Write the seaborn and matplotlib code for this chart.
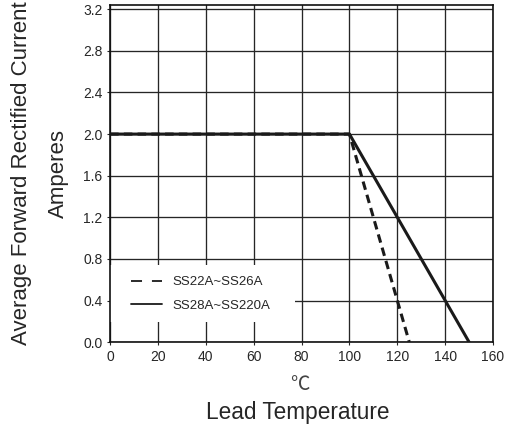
import pandas as pd
import matplotlib
matplotlib.use('Agg')
import matplotlib.pyplot as plt
from matplotlib.patches import Rectangle
import seaborn as sns

# derating curves
temp_a = [0, 100, 125]
current_a = [2.0, 2.0, 0.0]
temp_b = [0, 100, 150]
current_b = [2.0, 2.0, 0.0]
labels = ['SS22A~SS26A', 'SS28A~SS220A']

x_ticks = [0, 20, 40, 60, 80, 100, 120, 140, 160]
y_ticks = [0.0, 0.4, 0.8, 1.2, 1.6, 2.0, 2.4, 2.8, 3.2]

df_a = pd.DataFrame({'temp': temp_a, 'current': current_a, 'part': labels[0]})
df_b = pd.DataFrame({'temp': temp_b, 'current': current_b, 'part': labels[1]})

sns.set_theme(style='white')
plt.rcParams['font.family'] = ['Liberation Sans', 'DejaVu Sans']

fig = plt.figure(figsize=(5.12, 4.25), dpi=100)
ax = fig.add_axes([0.215, 0.195, 0.748, 0.793])

sns.lineplot(data=df_a, x='temp', y='current', ax=ax, color='#1a1a1a',
             linewidth=2.2, linestyle=(0, (2.8, 1.7)), label=labels[0], zorder=3)
sns.lineplot(data=df_b, x='temp', y='current', ax=ax, color='#1a1a1a',
             linewidth=2.2, label=labels[1], zorder=4)

ax.set_xlim(0, 160)
ax.set_ylim(0, 3.24)
ax.set_xticks(x_ticks)
ax.set_xticklabels([str(t) for t in x_ticks])
ax.set_yticks(y_ticks)
ax.set_yticklabels([f'{t:.1f}' for t in y_ticks])
ax.grid(True, color='#262626', linewidth=0.95)
ax.set_axisbelow(True)
for s in ax.spines.values():
    s.set_color('#111111')
    s.set_linewidth(1.2)
ax.tick_params(axis='both', labelsize=10, colors='#262626', length=2, width=0.8,
               direction='out', left=True, bottom=True)

ax.set_xlabel('Lead Temperature', fontsize=16.3, color='#262626')
ax.xaxis.set_label_coords(0.491, -0.176)
ax.set_ylabel('Average Forward Rectified Current\nAmperes', fontsize=16,
              color='#262626', linespacing=2.0)
ax.yaxis.set_label_coords(-0.108, 0.5)
ax.text(0.495, -0.125, '℃', transform=ax.transAxes, ha='center', va='center',
        fontsize=14, color='#444444', family=['Noto Sans CJK SC', 'DejaVu Sans'])

# white block behind the legend that hides the grid
ax.add_patch(Rectangle((0, 0.059), 0.482, 0.17, transform=ax.transAxes,
                       facecolor='white', edgecolor='none', zorder=2))

leg = ax.legend(loc='upper left', bbox_to_anchor=(0.055, 0.196), borderaxespad=0,
                borderpad=0, fontsize=9.5, frameon=False, handlelength=2.35,
                labelspacing=0.85, handletextpad=0.75)
leg.set_zorder(5)
handles = leg.get_lines()
for line in handles:
    line.set_linewidth(1.3)
handles[0].set_linestyle((0, (6.1, 5.5)))

fig.savefig('out.png', dpi=100)
